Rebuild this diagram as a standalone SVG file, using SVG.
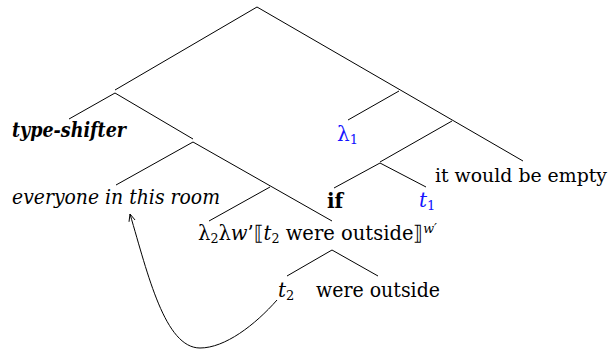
<svg xmlns="http://www.w3.org/2000/svg" width="611" height="352" viewBox="0 0 611 352">
<style>
  .e{stroke:#000;stroke-width:1;fill:none}
  text{font-family:"DejaVu Serif","Liberation Serif",serif;font-size:20px;fill:#000}
  .it{font-style:italic}
  .bf{font-weight:bold}
  .bl{fill:#1414ff}
  .sub{font-size:13px}
  .sup{font-size:13px;font-style:italic}
</style>
<defs>
  <marker id="ah" viewBox="0 0 10 10" refX="9" refY="5" markerWidth="9" markerHeight="9" orient="auto" markerUnits="userSpaceOnUse">
    <path d="M1,1.5 L9,5 L1,8.5" fill="none" stroke="#000" stroke-width="1"/>
  </marker>
</defs>
<rect width="611" height="352" fill="#fff"/>
<g id="connectors">
  <line class="e" x1="257" y1="7" x2="115" y2="90"/>
  <line class="e" x1="257" y1="7" x2="523" y2="161"/>
  <line class="e" x1="115" y1="93" x2="69" y2="119"/>
  <line class="e" x1="115" y1="93" x2="193" y2="139"/>
  <line class="e" x1="193" y1="142" x2="116" y2="185"/>
  <line class="e" x1="193" y1="142" x2="332" y2="221"/>
  <line class="e" x1="270" y1="187" x2="209" y2="221"/>
  <line class="e" x1="399" y1="91" x2="348" y2="120"/>
  <line class="e" x1="452" y1="121" x2="380" y2="162"/>
  <line class="e" x1="380" y1="163" x2="334" y2="188"/>
  <line class="e" x1="380" y1="163" x2="426" y2="187"/>
  <line class="e" x1="332" y1="250" x2="287" y2="276"/>
  <line class="e" x1="332" y1="250" x2="378" y2="276"/>
  <path class="e" d="M277,300 C255,325 225,348 200,348 C165,348 148,275 130,214" marker-end="url(#ah)"/>
</g>
<g id="n-typeshifter"><text class="it bf" x="12" y="137" textLength="114" lengthAdjust="spacingAndGlyphs">type-shifter</text></g>
<g id="n-everyone"><text class="it" x="12" y="204" textLength="208" lengthAdjust="spacingAndGlyphs">everyone in this room</text></g>
<g id="n-lambda1"><text class="bl" x="337" y="141">λ<tspan class="sub" dy="3">1</tspan></text></g>
<g id="n-if"><text class="bf" x="327" y="208">if</text></g>
<g id="n-t1"><text class="bl" x="419" y="207"><tspan class="it">t</tspan><tspan class="sub" dy="3">1</tspan></text></g>
<g id="n-empty"><text x="435" y="182" style="font-size:19px" textLength="172" lengthAdjust="spacingAndGlyphs">it would be empty</text></g>
<g id="n-lambda2"><text x="198" y="240" textLength="239" lengthAdjust="spacingAndGlyphs">λ<tspan class="sub" dy="3">2</tspan><tspan dy="-3">λ</tspan><tspan class="it">w</tspan>’⟦<tspan class="it">t</tspan><tspan class="sub" dy="3">2</tspan><tspan dy="-3"> were outside⟧</tspan><tspan class="sup" dy="-7">w′</tspan></text></g>
<g id="n-t2"><text x="278" y="297"><tspan class="it">t</tspan><tspan class="sub" dy="3">2</tspan></text></g>
<g id="n-wereoutside"><text x="316" y="297" textLength="124" lengthAdjust="spacingAndGlyphs">were outside</text></g>
</svg>
